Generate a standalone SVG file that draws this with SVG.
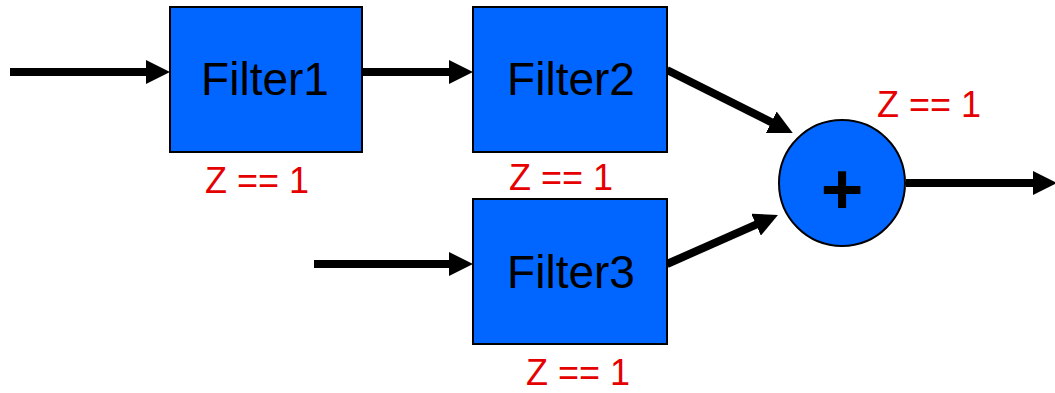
<svg xmlns="http://www.w3.org/2000/svg" width="1055" height="393" viewBox="0 0 1055 393">
  <style>
    .box { fill: #0066FF; stroke: #000; stroke-width: 2; }
    .label { font-family: "Liberation Sans", Arial, sans-serif; font-size: 46px; fill: #000; text-anchor: middle; }
    .cond { font-family: "Liberation Sans", Arial, sans-serif; font-size: 36px; fill: #E60000; text-anchor: middle; }
    .wire { stroke: #000; stroke-width: 8; fill: none; marker-end: url(#head); }
  </style>
  <defs>
    <marker id="head" markerUnits="userSpaceOnUse" viewBox="0 0 24 24" markerWidth="24" markerHeight="24" refX="12" refY="12" orient="auto">
      <path d="M0,0 L24,12 L0,24 Z" fill="#000"/>
    </marker>
  </defs>

  <g id="connectors">
    <line class="wire" x1="10" y1="72" x2="158" y2="72"/>
    <line class="wire" x1="362" y1="72" x2="461" y2="72"/>
    <line class="wire" x1="314" y1="264" x2="461" y2="264"/>
    <line class="wire" x1="667" y1="70" x2="782" y2="127.6"/>
    <line class="wire" x1="667" y1="264" x2="767" y2="219.8"/>
    <line class="wire" x1="906" y1="183" x2="1045" y2="183"/>
  </g>

  <g id="filter1">
    <rect class="box" x="170" y="7" width="192" height="145"/>
    <text class="label" x="265" y="95">Filter1</text>
    <text class="cond" x="257" y="193">Z == 1</text>
  </g>

  <g id="filter2">
    <rect class="box" x="473" y="7" width="194" height="145"/>
    <text class="label" x="571" y="95">Filter2</text>
    <text class="cond" x="561" y="190">Z == 1</text>
  </g>

  <g id="filter3">
    <rect class="box" x="473" y="199" width="194" height="145"/>
    <text class="label" x="571" y="288">Filter3</text>
    <text class="cond" x="578" y="385">Z == 1</text>
  </g>

  <g id="adder">
    <circle class="box" cx="842" cy="183" r="63"/>
    <text x="842" y="214" font-family="Liberation Sans, Arial, sans-serif" font-size="73" font-weight="bold" text-anchor="middle">+</text>
    <text class="cond" x="929" y="117">Z == 1</text>
  </g>
</svg>
